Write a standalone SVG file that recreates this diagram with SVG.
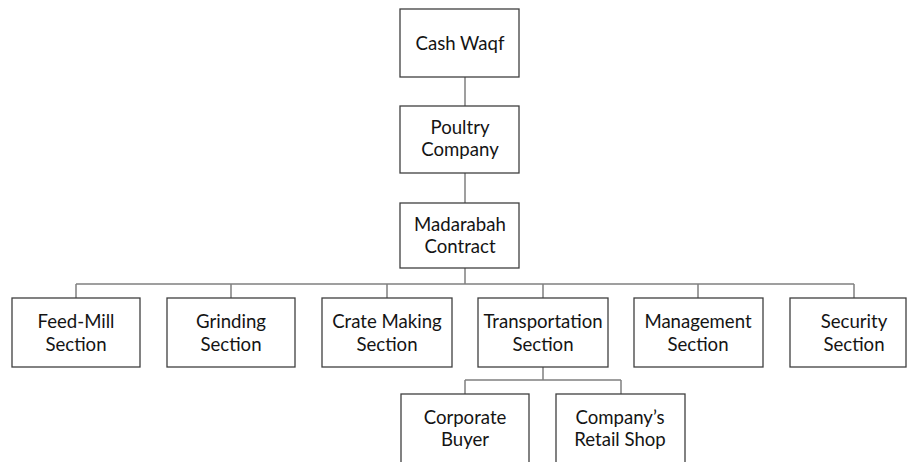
<svg xmlns="http://www.w3.org/2000/svg" width="908" height="462" viewBox="0 0 908 462">
  <style>
    .box { fill: #ffffff; stroke: #3f3f3f; stroke-width: 1.3; }
    .link { fill: none; stroke: #7f7f7f; stroke-width: 1.5; }
    .label { font-family: "Lato", "Open Sans", "Liberation Sans", sans-serif; font-size: 18.6px; fill: #141414; text-anchor: middle; }
  </style>
  <rect width="908" height="462" fill="#ffffff"/>

  <!-- connectors -->
  <g id="connectors">
    <line class="link" x1="465" y1="77" x2="465" y2="106"/>
    <line class="link" x1="465" y1="173" x2="465" y2="203"/>
    <line class="link" x1="465" y1="268" x2="465" y2="284"/>
    <line class="link" x1="76" y1="284" x2="854" y2="284"/>
    <line class="link" x1="76" y1="284" x2="76" y2="298"/>
    <line class="link" x1="231" y1="284" x2="231" y2="298"/>
    <line class="link" x1="387" y1="284" x2="387" y2="298"/>
    <line class="link" x1="543" y1="284" x2="543" y2="298"/>
    <line class="link" x1="698" y1="284" x2="698" y2="298"/>
    <line class="link" x1="854" y1="284" x2="854" y2="298"/>
    <line class="link" x1="543" y1="367" x2="543" y2="380"/>
    <line class="link" x1="465" y1="380" x2="621" y2="380"/>
    <line class="link" x1="465" y1="380" x2="465" y2="394"/>
    <line class="link" x1="621" y1="380" x2="621" y2="394"/>
  </g>

  <g id="cash-waqf">
    <rect class="box" x="400" y="9" width="119" height="68"/>
    <text class="label" x="460" y="50">Cash Waqf</text>
  </g>
  <g id="poultry-company">
    <rect class="box" x="400" y="106" width="119" height="67"/>
    <text class="label" x="460" y="134">Poultry</text>
    <text class="label" x="460" y="156">Company</text>
  </g>
  <g id="madarabah-contract">
    <rect class="box" x="400" y="203" width="119" height="65"/>
    <text class="label" x="460" y="231">Madarabah</text>
    <text class="label" x="460" y="253">Contract</text>
  </g>

  <g id="feed-mill">
    <rect class="box" x="12" y="298" width="128" height="69"/>
    <text class="label" x="76" y="328">Feed-Mill</text>
    <text class="label" x="76" y="351">Section</text>
  </g>
  <g id="grinding">
    <rect class="box" x="167" y="298" width="128" height="69"/>
    <text class="label" x="231" y="328">Grinding</text>
    <text class="label" x="231" y="351">Section</text>
  </g>
  <g id="crate-making">
    <rect class="box" x="322" y="298" width="130" height="69"/>
    <text class="label" x="387" y="328">Crate Making</text>
    <text class="label" x="387" y="351">Section</text>
  </g>
  <g id="transportation">
    <rect class="box" x="478" y="298" width="130" height="69"/>
    <text class="label" x="543" y="328">Transportation</text>
    <text class="label" x="543" y="351">Section</text>
  </g>
  <g id="management">
    <rect class="box" x="634" y="298" width="129" height="69"/>
    <text class="label" x="698" y="328">Management</text>
    <text class="label" x="698" y="351">Section</text>
  </g>
  <g id="security">
    <rect class="box" x="790" y="298" width="116" height="69"/>
    <text class="label" x="854" y="328">Security</text>
    <text class="label" x="854" y="351">Section</text>
  </g>

  <g id="corporate-buyer">
    <rect class="box" x="401" y="394" width="128" height="80"/>
    <text class="label" x="465" y="424">Corporate</text>
    <text class="label" x="465" y="446">Buyer</text>
  </g>
  <g id="retail-shop">
    <rect class="box" x="556" y="394" width="129" height="80"/>
    <text class="label" x="620" y="424">Company’s</text>
    <text class="label" x="620" y="446">Retail Shop</text>
  </g>
</svg>
